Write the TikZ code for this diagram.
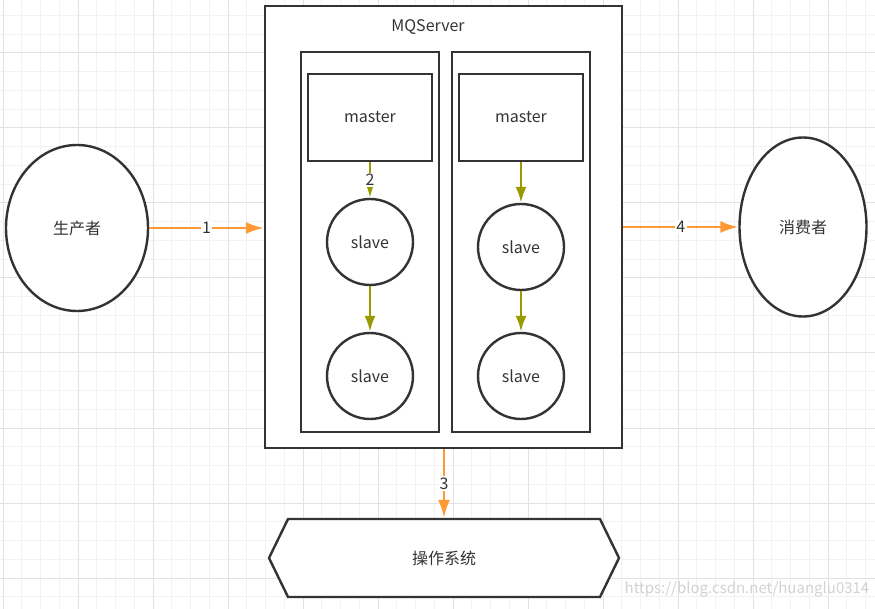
\documentclass[tikz,border=0pt]{standalone}
\usepackage{fontspec}
\setmainfont{Noto Sans CJK SC}
\usepackage{tikz}
\usetikzlibrary{arrows.meta,positioning,shapes.geometric,shapes.symbols}
\definecolor{linegray}{HTML}{333333}
\definecolor{flow}{HTML}{FF9933}
\definecolor{repl}{HTML}{999900}
\definecolor{gridminor}{HTML}{F2F2F2}
\definecolor{gridmajor}{HTML}{E2E2E2}
\tikzset{%
	block/.style    = {draw=linegray, line width=2.4pt, rectangle, fill=white, text=linegray},
	slave/.style    = {draw=linegray, line width=2.4pt, circle, fill=white, minimum size=86pt, text=linegray},
	actor/.style    = {draw=linegray, line width=2.4pt, ellipse, fill=white, text=linegray},
	osbox/.style    = {draw=linegray, line width=2.4pt, signal, signal to=west and east, signal pointer angle=128, fill=white, text=linegray},
	label/.style    = {fill=white, text=linegray, inner sep=1.5pt},
}
\tikzset{%
	arrow/.style    = {line width=2.4pt, draw=flow, -{Latex[length=18pt,width=12pt]}},
	sync/.style     = {line width=2.4pt, draw=repl, -{Latex[length=16pt,width=11pt]}},
}

\begin{document}
\begin{tikzpicture}[x=1pt,y=-1pt,font=\fontsize{16}{19}\selectfont]
	\useasboundingbox (0,0) rectangle (875,609);
	\fill[white] (0,0) rectangle (875,609);
	% grid
	\foreach \k in {-1,...,47} \draw[gridminor,line width=1pt] ({3+18.75*\k},0) -- ({3+18.75*\k},609);
	\foreach \k in {0,...,33} \draw[gridminor,line width=1pt] (0,{-3.25+18.75*\k}) -- (875,{-3.25+18.75*\k});
	\foreach \k in {0,...,11} \draw[gridmajor,line width=1pt] ({3+75*\k},0) -- ({3+75*\k},609);
	\foreach \k in {0,...,8} \draw[gridmajor,line width=1pt] (0,{-22+75*\k}) -- (875,{-22+75*\k});

	\node[actor,minimum width=142pt,minimum height=166pt] (producer) at (77,228) {生产者};
	\node[actor,minimum width=127pt,minimum height=179pt] (consumer) at (803,227) {消费者};
	\node[block,minimum width=357pt,minimum height=442pt] (mq) at (443.5,227) {};
	\node[text=linegray] (mqname) at (428,27) {MQServer};
	\node[block,minimum width=138pt,minimum height=380pt] (groupa) at (370,242) {};
	\node[block,minimum width=138pt,minimum height=380pt] (groupb) at (521,242) {};
	\node[block,minimum width=124pt,minimum height=87pt] (mastera) at (370,117.5) {master};
	\node[block,minimum width=124pt,minimum height=87pt] (masterb) at (521,117.5) {master};
	\node[slave] (slavea1) at (370,242) {slave};
	\node[slave] (slavea2) at (370,376) {slave};
	\node[slave] (slaveb1) at (521,247) {slave};
	\node[slave] (slaveb2) at (521,376) {slave};
	\node[osbox,minimum width=350pt,minimum height=78pt] (os) at (444,558) {操作系统};
	\node[text=gray!35,font=\fontsize{15}{17}\selectfont] (mark) at (747,589) {https://blog.csdn.net/huanglu0314};

	\draw[arrow] (producer.east) -- node[label] {1} (producer.east -| mq.west);
	\draw[arrow] (mq.east |- consumer.west) -- node[label] {4} (consumer.west);
	\draw[arrow] (mq.south -| os.north) -- node[label] {3} (os.north);
	\draw[sync] (mastera) -- node[label] {2} (slavea1);
	\draw[sync] (slavea1) -- (slavea2);
	\draw[sync] (masterb) -- (slaveb1);
	\draw[sync] (slaveb1) -- (slaveb2);
\end{tikzpicture}
\end{document}
